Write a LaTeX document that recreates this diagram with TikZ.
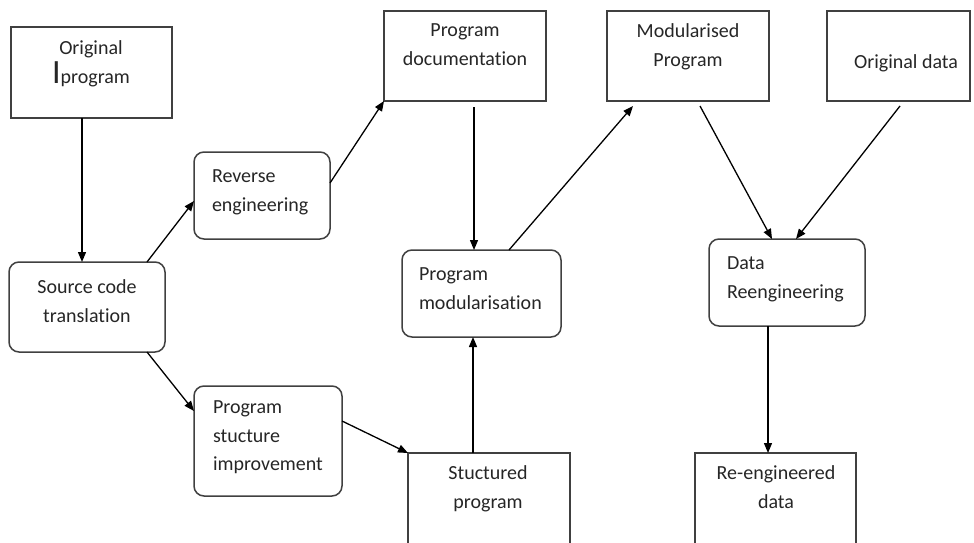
\documentclass[tikz,border=0pt]{standalone}
\usepackage{fontspec}
\setmainfont{Carlito}[Ligatures=NoCommon]
\usetikzlibrary{arrows.meta}
\definecolor{boxcol}{HTML}{404040}
\definecolor{txtcol}{HTML}{262626}
\begin{document}
\begin{tikzpicture}[x=1pt,y=-1pt,
  sqbox/.style={draw=boxcol,line width=1.5pt,inner sep=0pt,outer sep=0pt},
  rbox/.style={sqbox,rounded corners=10pt},
  lbl/.style={inner sep=0pt,outer sep=0pt,font=\fontsize{20}{28.5}\selectfont,text=txtcol},
  lblc/.style={lbl,align=center,anchor=north},
  lbll/.style={lbl,align=left,anchor=north west},
  arr/.style={draw=black,line width=1.3pt,-{Triangle[length=10pt,width=8pt]}}]
\useasboundingbox (0,0) rectangle (974,543);
\clip (0,0) rectangle (974,543);
% boxes
\node[sqbox,minimum width=161pt,minimum height=91pt] (orig) at (91.5,72.5) {};
\node[sqbox,minimum width=162pt,minimum height=90pt] (doc) at (465,56) {};
\node[sqbox,minimum width=162pt,minimum height=90pt] (mod) at (688,56) {};
\node[sqbox,minimum width=143pt,minimum height=90pt] (odata) at (898.5,56) {};
\node[rbox,minimum width=136pt,minimum height=87pt] (rev) at (262,195.5) {};
\node[rbox,minimum width=156pt,minimum height=90pt] (src) at (87,307) {};
\node[rbox,minimum width=159pt,minimum height=87pt] (pmod) at (481.5,293.5) {};
\node[rbox,minimum width=156pt,minimum height=87pt] (dre) at (787,282.5) {};
\node[rbox,minimum width=148pt,minimum height=110pt] (psi) at (268,441) {};
\node[sqbox,minimum width=162pt,minimum height=110pt] (stp) at (489,508) {};
\node[sqbox,minimum width=161pt,minimum height=110pt] (red) at (775.5,508) {};
% texts
\node[lblc] (t-orig) at (91,41) {Original\\{\fontsize{34}{28.5}\selectfont I}program};
\node[lblc] (t-doc) at (465,24) {Program\\documentation};
\node[lblc] (t-mod) at (688,24) {Modularised\\Program};
\node[lblc] (t-odata) at (906,55) {Original data};
\node[lbll] (t-rev) at (212,170) {Reverse\\engineering};
\node[lblc] (t-src) at (87,280) {Source code\\translation};
\node[lbll] (t-pmod) at (419,268) {Program\\modularisation};
\node[lbll] (t-dre) at (727,257) {Data\\Reengineering};
\node[lbll] (t-psi) at (213,401) {Program\\stucture\\improvement};
\node[lblc] (t-stp) at (488,466) {Stuctured\\program};
\node[lblc] (t-red) at (776,466) {Re-engineered\\data};
% connectors
\draw[arr] ([xshift=-9.5pt]orig.south) -- ([xshift=-5pt]src.north);
\draw[arr] ([xshift=60pt]src.north) -- ([yshift=-5.5pt]rev.west);
\draw[arr] ([xshift=60pt]src.south) -- ([yshift=30pt]psi.west);
\draw[arr] ([yshift=12.5pt]rev.east) -- (doc.south west);
\draw[arr] ([yshift=20pt]psi.east) -- (stp.north west);
\draw[arr] ([xshift=9pt,yshift=-6pt]doc.south) -- ([xshift=-7.5pt]pmod.north);
\draw[arr] ([xshift=-16pt]stp.north) -- ([xshift=-8.5pt]pmod.south);
\draw[arr] ([xshift=27.5pt]pmod.north) -- ([xshift=-55pt,yshift=-5pt]mod.south);
\draw[arr] ([xshift=12pt,yshift=-5pt]mod.south) -- ([xshift=-15pt]dre.north);
\draw[arr] ([xshift=1.5pt,yshift=-5pt]odata.south) -- ([xshift=9pt]dre.north);
\draw[arr] ([xshift=-19pt]dre.south) -- ([xshift=-7.5pt]red.north);
\end{tikzpicture}
\end{document}
